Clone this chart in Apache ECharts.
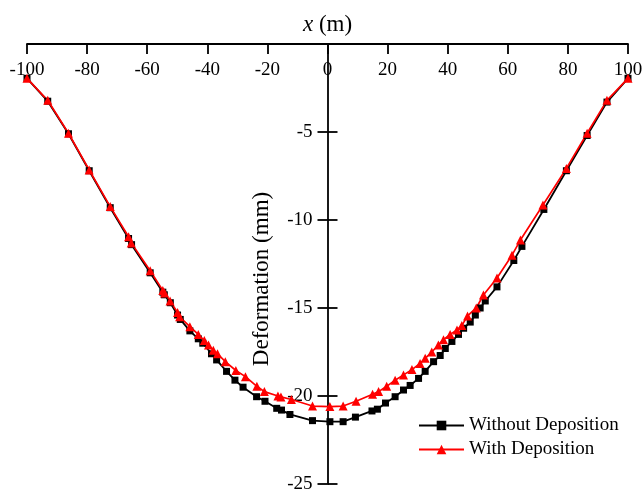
<!DOCTYPE html>
<html>
<head>
<meta charset="utf-8">
<script src="https://cdn.jsdelivr.net/npm/echarts@6/dist/echarts.min.js"></script>
<style>html,body{margin:0;padding:0;background:#fff;}#chart{width:644px;height:490px;}</style>
</head>
<body>
<div id="chart"></div>
<script>
// x positions (m) and deformation (mm)
const xWithout = [-100, -93.1, -86.2, -79.3, -72.3, -66.2, -65.2, -59, -54.8, -54.3, -52.3, -49.9, -49, -45.8, -43, -41.5, -38.6, -36.9, -33.6, -30.8, -28.1, -23.6, -20.8, -16.9, -15.3, -12.5, -5, 0.8, 5.2, 9.3, 14.8, 16.6, 19.3, 22.5, 25.3, 27.5, 30.3, 32.5, 35.3, 37.5, 39.2, 41.4, 43.6, 45.3, 47.5, 49.2, 50.8, 52.5, 56.4, 62, 64.7, 72, 79.5, 86.4, 93, 100];
const yWithout = [-1.95, -3.25, -5.1, -7.2, -9.3, -11.05, -11.4, -13.0, -14.1, -14.25, -14.7, -15.4, -15.65, -16.3, -16.75, -17.0, -17.6, -17.95, -18.6, -19.1, -19.5, -20.04, -20.3, -20.7, -20.8, -21.05, -21.4, -21.46, -21.46, -21.2, -20.85, -20.75, -20.4, -20.04, -19.66, -19.4, -19.0, -18.6, -18.05, -17.7, -17.3, -16.9, -16.5, -16.15, -15.8, -15.4, -15.0, -14.6, -13.8, -12.3, -11.5, -9.4, -7.2, -5.2, -3.3, -1.95];
const xWith = [-100, -93.1, -86.2, -79.3, -72.3, -66.2, -65.3, -59, -54.8, -54.2, -52.4, -49.9, -49.2, -45.8, -43, -41, -39.6, -38, -36.6, -34, -30.5, -27.3, -23.5, -21, -16.5, -15.5, -12, -5, 0.8, 5.2, 9.5, 15, 17, 19.7, 22.5, 25.3, 28.1, 30.8, 32.5, 34.7, 36.9, 38.6, 40.8, 43.1, 44.7, 46.6, 49.5, 51.9, 56.4, 61.4, 64.2, 71.7, 79.5, 86.4, 93, 100];
const yWith = [-1.95, -3.2, -5.07, -7.16, -9.24, -10.95, -11.3, -12.88, -14.0, -14.15, -14.6, -15.25, -15.5, -16.06, -16.5, -16.85, -17.1, -17.4, -17.6, -18.05, -18.55, -18.9, -19.45, -19.75, -20.0, -20.05, -20.2, -20.57, -20.6, -20.57, -20.3, -19.9, -19.75, -19.45, -19.1, -18.8, -18.5, -18.15, -17.86, -17.5, -17.1, -16.8, -16.5, -16.25, -16.0, -15.45, -15.0, -14.26, -13.3, -12.0, -11.14, -9.15, -7.07, -5.07, -3.2, -1.95];
const seriesNames = ['Without Deposition', 'With Deposition'];
const xTicks = [-100, -80, -60, -40, -20, 0, 20, 40, 60, 80, 100];
const yTicks = [0, -5, -10, -15, -20, -25];

const zip = (xs, ys) => xs.map((x, i) => [x, ys[i]]);
const font = 'Liberation Serif, Times New Roman, serif';

const W = 644, gridLeft = 27, gridRight = 16;
const plotW = W - gridLeft - gridRight;
const xMin = xTicks[0], xMax = xTicks[xTicks.length - 1];
// place the vertical axis where x = 0
const yAxisOffset = -plotW * (0 - xMin) / (xMax - xMin);

const yAxisBase = {
  type: 'value', position: 'left', offset: yAxisOffset,
  min: yTicks[yTicks.length - 1], max: yTicks[0], interval: 5,
  splitLine: {show: false}
};

const chart = echarts.init(document.getElementById('chart'), null, {renderer: 'canvas'});
chart.setOption({
  backgroundColor: '#fff',
  animation: false,
  grid: {left: gridLeft, right: gridRight, top: 44, bottom: 6, containLabel: false, outerBoundsMode: 'none'},
  xAxis: {
    type: 'value', position: 'top',
    min: xMin, max: xMax, interval: 20,
    name: '{i|x} (m)', nameLocation: 'middle', nameGap: 8,
    nameTextStyle: {fontFamily: font, fontSize: 23, color: '#000',
      rich: {i: {fontFamily: font, fontSize: 23, fontStyle: 'italic', color: '#000'}}},
    axisLine: {onZero: false, lineStyle: {color: '#000', width: 1.8}},
    axisTick: {inside: true, length: 10, lineStyle: {color: '#000', width: 1.8}},
    axisLabel: {inside: true, margin: 17, fontFamily: font, fontSize: 19, color: '#000'},
    splitLine: {show: false}
  },
  yAxis: [Object.assign({}, yAxisBase, {
    axisLine: {onZero: false, lineStyle: {color: '#000', width: 1.8}},
    axisTick: {inside: false, length: 10, lineStyle: {color: '#000', width: 1.8}},
    axisLabel: {margin: 15, fontFamily: font, fontSize: 19, color: '#000',
      formatter: v => v === 0 ? '' : String(v)}
  }), Object.assign({}, yAxisBase, {
    axisLine: {show: false, onZero: false},
    axisTick: {inside: true, length: 10, lineStyle: {color: '#000', width: 1.8}},
    axisLabel: {show: false}
  })],
  legend: {
    orient: 'vertical', left: 418, top: 416, padding: 0,
    itemWidth: 45, itemHeight: 12, itemGap: 5,
    textStyle: {fontFamily: font, fontSize: 19, color: '#000'},
    data: seriesNames
  },
  graphic: [{
    type: 'text', x: 262, y: 279, rotation: Math.PI / 2,
    style: {text: 'Deformation (mm)', fontFamily: font, fontSize: 23, fill: '#000',
      align: 'center', verticalAlign: 'middle'}
  }],
  series: [{
    name: seriesNames[0], type: 'line', data: zip(xWithout, yWithout),
    symbol: 'rect', symbolSize: 7,
    lineStyle: {color: '#000', width: 1.8}, itemStyle: {color: '#000'}
  }, {
    name: seriesNames[1], type: 'line', data: zip(xWith, yWith),
    symbol: 'triangle', symbolSize: 9,
    lineStyle: {color: '#f00', width: 1.7}, itemStyle: {color: '#f00'}
  }]
});
</script>
</body>
</html>
